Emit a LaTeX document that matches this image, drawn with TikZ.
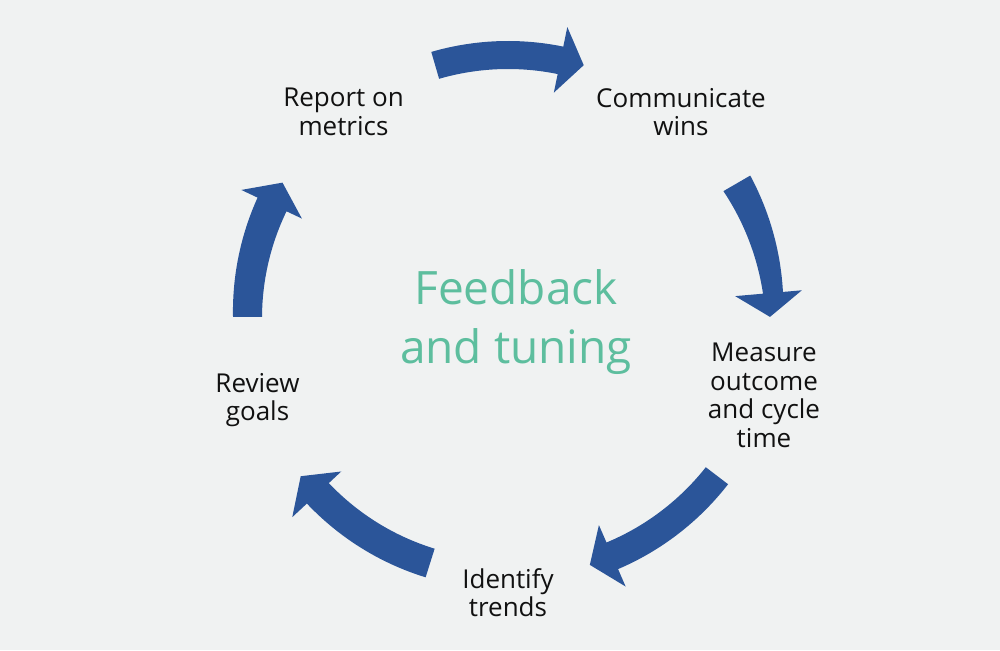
\documentclass[tikz,border=0pt]{standalone}
\usepackage{fontspec}
\setmainfont{Open Sans}
\definecolor{bgcol}{HTML}{F0F2F2}
\definecolor{arrowblue}{HTML}{2B5599}
\definecolor{fbteal}{HTML}{5DBE9E}
\definecolor{txt}{HTML}{111111}
% a1 a2 a3 rin1 rout1 rin2 rout2
\newcommand\cyclearrow[7]{%
  \fill[arrowblue] plot[domain=#1:#2,samples=40] (\x:{#5+(#7-#5)*(\x-(#1))/((#2)-(#1))})
    -- (#2:295) -- (#3:262) -- (#2:228)
    -- plot[domain=#2:#1,samples=40] (\x:{#4+(#6-#4)*(\x-(#1))/((#2)-(#1))}) -- cycle;}
\begin{document}
\begin{tikzpicture}[x=1pt,y=1pt,
  lbl/.style={align=center, inner sep=0pt, text=txt, font=\fontsize{26}{28.5}\selectfont},
  ctr/.style={align=center, inner sep=0pt, text=fbteal, font=\fontsize{46}{58.7}\selectfont}]
\fill[bgcol] (0,0) rectangle (1000,650);
\useasboundingbox (0,0) rectangle (1000,650);
\begin{scope}[shift={(508,334)}]
  \cyclearrow{106.2}{78.4}{73.2}{247}{275}{247}{275}
  \cyclearrow{30.1}{5}{-0.2}{249}{280}{256}{276}
  \cyclearrow{-37.4}{-66.5}{-71.8}{249}{277}{247}{276}
  \cyclearrow{-107.5}{-137}{-142.3}{244}{274}{245}{275}
  \cyclearrow{180.2}{154.7}{149.4}{246}{275}{245}{277}
\end{scope}
\node[lbl, anchor=north] (report) at (343.5,562) {Report on\\metrics};
\node[lbl, anchor=north] (communicate) at (681,562) {Communicate\\wins};
\node[lbl, anchor=north] (measure) at (764,307) {Measure\\outcome\\and cycle\\time};
\node[lbl, anchor=north] (identify) at (508,82) {Identify\\trends};
\node[lbl, anchor=north] (review) at (257.5,277) {Review\\goals};
\node[ctr, anchor=north] (feedback) at (516,380.5) {Feedback\\and tuning};
\end{tikzpicture}
\end{document}
